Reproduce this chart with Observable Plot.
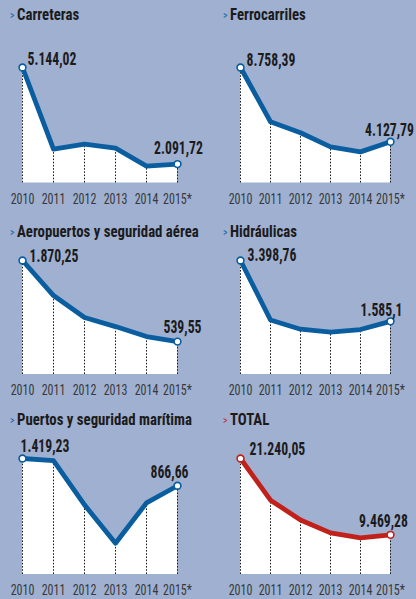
<!DOCTYPE html>
<html>
<head>
<meta charset="utf-8">
<script src="https://cdn.jsdelivr.net/npm/d3@7"></script>
<script src="https://cdn.jsdelivr.net/npm/@observablehq/plot@0.6"></script>
<style>
  html, body { margin: 0; padding: 0; }
  body { width: 416px; height: 599px; background: #9fb0d1; position: relative; overflow: hidden;
         font-family: "Roboto Condensed", Roboto, sans-serif; }
  .title { position: absolute; font-weight: bold; font-size: 17px; line-height: 17px; color: #1b1b1b;
           white-space: nowrap; transform: scaleX(0.87); transform-origin: left center; }
  .title .chev { font-size: 11px; font-weight: normal; margin-right: 3px; position: relative; top: -1px; }
  .panel { position: absolute; }
</style>
</head>
<body>
<script>
const years = ["2010", "2011", "2012", "2013", "2014", "2015*"];
const carreteras    = [5144.02, 2564, 2721, 2595, 2029, 2091.72];
const ferrocarriles = [8758.39, 5379, 4691, 3815, 3502, 4127.79];
const aeropuertos   = [1870.25, 1295, 934, 786, 622, 539.55];
const hidraulicas   = [3398.76, 1625, 1350, 1265, 1340, 1585.1];
const puertos       = [1419.23, 1378, 478, -300, 519, 866.66];
const total         = [21240.05, 14820, 11762, 9775, 9011, 9469.28];
const titles = ["Carreteras", "Ferrocarriles", "Aeropuertos y seguridad aérea", "Hidráulicas", "Puertos y seguridad marítima", "TOTAL"];
const firstLabels = ["5.144,02", "8.758,39", "1.870,25", "3.398,76", "1.419,23", "21.240,05"];
const lastLabels  = ["2.091,72", "4.127,79", "539,55", "1.585,1", "866,66", "9.469,28"];
const yFloors = [1494, 1562, 0, 0, -935, 3354];

const BLUE = "#0a5d9e", RED = "#c0211b";
const FONT = "\"Roboto Condensed\", Roboto, sans-serif";

const series = [carreteras, ferrocarriles, aeropuertos, hidraulicas, puertos, total];
const rows = [
  {titleTop: 6.2, pointTop: 66.5, base: 182},
  {titleTop: 222.7, pointTop: 260, base: 374},
  {titleTop: 410.7, pointTop: 458, base: 574}
];
const cols = [
  {left: 0, titleLeft: 10, ml: 22, mr: 31},
  {left: 208, titleLeft: 223, ml: 30, mr: 25}
];
const firstOff = [[5, -3], [6, -2], [7, 1], [7, 0], [-2, -7], [9, -4]];
const lastOff  = [[1, -10], [-1, -6], [5, -9], [-9, -5], [-8, -8], [-7, -8]];

function compress(nodes, factor) {
  nodes.forEach(t => {
    const w = t.getComputedTextLength();
    if (w > 0) { t.setAttribute("textLength", (w * factor).toFixed(2)); t.setAttribute("lengthAdjust", "spacingAndGlyphs"); }
  });
}

series.forEach((vals, i) => {
  const r = rows[Math.floor(i / 2)], c = cols[i % 2];
  const color = i === 5 ? RED : BLUE;
  const data = years.map((y, k) => ({year: y, value: vals[k]}));
  const lo = yFloors[i];
  const hi = d3.max(vals);
  const mt = 36, mb = 30;
  const height = (r.base - r.pointTop) + mt + mb;

  const t = document.createElement("div");
  t.className = "title";
  t.style.left = c.titleLeft + "px";
  t.style.top = r.titleTop + "px";
  t.innerHTML = `<span class="chev" style="color:${color}">&gt;</span>${titles[i]}`;
  document.body.appendChild(t);

  const ends = [data[0], data[data.length - 1]];
  const chart = Plot.plot({
    width: 208, height,
    marginLeft: c.ml, marginRight: c.mr, marginTop: mt, marginBottom: mb,
    style: {background: "transparent", overflow: "visible", fontFamily: FONT},
    x: {type: "point", domain: years, padding: 0, label: null, tickSize: 0, tickPadding: 10},
    y: {domain: [lo, hi], axis: null},
    marks: [
      Plot.areaY(data, {x: "year", y1: () => lo, y2: "value", fill: "white"}),
      Plot.ruleX(data, {x: "year", y1: () => lo, y2: "value", stroke: "#1a1a1a", strokeWidth: 1, strokeDasharray: "1.6,1.6"}),
      Plot.line(data, {x: "year", y: "value", stroke: color, strokeWidth: 4.8, strokeLinejoin: "round", strokeLinecap: "round"}),
      Plot.dot(ends, {x: "year", y: "value", r: 3.4, fill: "white", stroke: color, strokeWidth: 1.6}),
      Plot.text([data[0]], {x: "year", y: "value", text: () => firstLabels[i], textAnchor: "start", lineAnchor: "bottom",
        dx: firstOff[i][0], dy: firstOff[i][1], fontSize: 18, fontWeight: "bold", fill: "#1b1b1b"}),
      Plot.text([data[data.length - 1]], {x: "year", y: "value", text: () => lastLabels[i], textAnchor: "middle", lineAnchor: "bottom",
        dx: lastOff[i][0], dy: lastOff[i][1], fontSize: 18, fontWeight: "bold", fill: "#1b1b1b"})
    ]
  });
  const xAxis = chart.querySelector("g[aria-label='x-axis tick label']");
  if (xAxis) { xAxis.setAttribute("font-size", "15"); xAxis.setAttribute("fill", "#383838"); }
  const wrap = document.createElement("div");
  wrap.className = "panel";
  wrap.style.left = c.left + "px";
  wrap.style.top = (r.pointTop - mt) + "px";
  wrap.appendChild(chart);
  document.body.appendChild(wrap);
  if (xAxis) compress(xAxis.querySelectorAll("text"), 0.8);
  compress(chart.querySelectorAll("g[aria-label='text'] text"), 0.76);
});
</script>
</body>
</html>
